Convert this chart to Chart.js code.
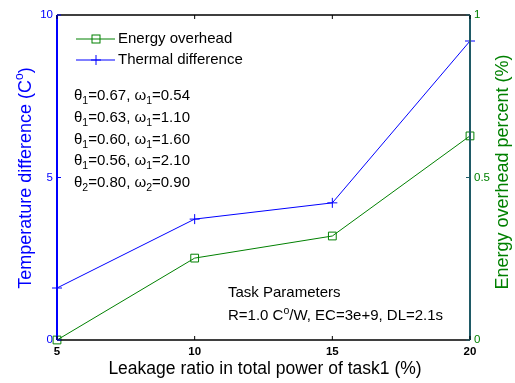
<!DOCTYPE html>
<html><head><meta charset="utf-8">
<script src="https://cdn.jsdelivr.net/npm/chart.js@4"></script>
<style>html,body{margin:0;padding:0;background:#fff}#wrap{width:515px;height:383px}</style>
</head><body><div id="wrap"><canvas id="c" width="515" height="383"></canvas></div>
<script>
const categories = [5, 10, 15, 20];
const thermalDiff = [1.6, 3.72, 4.22, 9.2];
const energyOverhead = [0.0, 0.252, 0.32, 0.628];
const xTicks = [5, 10, 15, 20];
const leftTicks = [0, 5, 10];
const rightTicks = [0, 0.5, 1];
const paramLines = [
  ["θ","1","0.67","ω","1","0.54"],
  ["θ","1","0.63","ω","1","1.10"],
  ["θ","1","0.60","ω","1","1.60"],
  ["θ","1","0.56","ω","1","2.10"],
  ["θ","2","0.80","ω","2","0.90"]
];
const FONT = 'Liberation Sans, Arial, sans-serif';
const BLUE = '#0000ff', GREEN = '#008000', TEAL = '#1f5a66';

const deco = {
  id: 'deco',
  afterDraw(chart) {
    const ctx = chart.ctx, a = chart.chartArea;
    const xs = chart.scales.x, yl = chart.scales.y, yr = chart.scales.y1;
    ctx.save();
    // frame
    ctx.lineWidth = 1.5; ctx.strokeStyle = '#000';
    ctx.beginPath(); ctx.moveTo(a.left, a.top); ctx.lineTo(a.right, a.top);
    ctx.moveTo(a.left, a.bottom); ctx.lineTo(a.right, a.bottom); ctx.stroke();
    ctx.lineWidth = 2; ctx.strokeStyle = BLUE;
    ctx.beginPath(); ctx.moveTo(a.left, a.top); ctx.lineTo(a.left, a.bottom); ctx.stroke();
    ctx.strokeStyle = TEAL;
    ctx.beginPath(); ctx.moveTo(a.right, a.top); ctx.lineTo(a.right, a.bottom); ctx.stroke();
    // ticks inward
    ctx.lineWidth = 1; ctx.strokeStyle = '#000';
    xTicks.forEach(v => { const px = xs.getPixelForValue(v);
      ctx.beginPath(); ctx.moveTo(px, a.bottom); ctx.lineTo(px, a.bottom - 4);
      ctx.moveTo(px, a.top); ctx.lineTo(px, a.top + 4); ctx.stroke(); });
    ctx.strokeStyle = BLUE;
    leftTicks.forEach(v => { const py = yl.getPixelForValue(v);
      ctx.beginPath(); ctx.moveTo(a.left, py); ctx.lineTo(a.left + 4, py); ctx.stroke(); });
    ctx.strokeStyle = TEAL;
    rightTicks.forEach(v => { const py = yr.getPixelForValue(v);
      ctx.beginPath(); ctx.moveTo(a.right, py); ctx.lineTo(a.right - 4, py); ctx.stroke(); });
    // axis titles
    ctx.fillStyle = '#000'; ctx.font = '17.5px ' + FONT; ctx.textAlign = 'center'; ctx.textBaseline = 'alphabetic';
    ctx.fillText('Leakage ratio in total power of task1 (%)', 265, 374);
    // left title with superscript
    ctx.save();
    ctx.translate(31, 178); ctx.rotate(-Math.PI / 2);
    ctx.fillStyle = BLUE; ctx.textAlign = 'left';
    const p1 = 'Temperature difference (C', p3 = ')';
    ctx.font = '18px ' + FONT; const w1 = ctx.measureText(p1).width, w3 = ctx.measureText(p3).width;
    ctx.font = '12px ' + FONT; const w2 = ctx.measureText('o').width;
    let x0 = -(w1 + w2 + w3) / 2;
    ctx.font = '18px ' + FONT; ctx.fillText(p1, x0, 0);
    ctx.font = '12px ' + FONT; ctx.fillText('o', x0 + w1, -8);
    ctx.font = '18px ' + FONT; ctx.fillText(p3, x0 + w1 + w2, 0);
    ctx.restore();
    ctx.save();
    ctx.translate(508, 172); ctx.rotate(-Math.PI / 2);
    ctx.fillStyle = GREEN; ctx.font = '18px ' + FONT; ctx.textAlign = 'center';
    ctx.fillText('Energy overhead percent (%)', 0, 0);
    ctx.restore();
    // legend
    const ds = chart.data.datasets;
    const legRows = [{d: ds[1], y: 39}, {d: ds[0], y: 60}];
    legRows.forEach(r => {
      ctx.strokeStyle = r.d.borderColor; ctx.lineWidth = 1;
      ctx.beginPath(); ctx.moveTo(76, r.y); ctx.lineTo(115, r.y); ctx.stroke();
      if (r.d.pointStyle === 'rect') ctx.strokeRect(92, r.y - 4, 8, 8);
      else { ctx.beginPath(); ctx.moveTo(96, r.y - 5); ctx.lineTo(96, r.y + 5); ctx.moveTo(91, r.y); ctx.lineTo(101, r.y); ctx.stroke(); }
      ctx.fillStyle = '#000'; ctx.font = '15px ' + FONT; ctx.textAlign = 'left'; ctx.textBaseline = 'middle';
      ctx.fillText(r.d.label, 118, r.y);
    });
    // parameter lines
    ctx.textBaseline = 'alphabetic'; ctx.fillStyle = '#000';
    paramLines.forEach((p, i) => {
      const y = 100 + i * 21.8; let x = 74;
      const seg = (t, f, dy) => { ctx.font = f + 'px ' + FONT; ctx.fillText(t, x, y + dy); x += ctx.measureText(t).width; };
      seg(p[0], 15, 0); seg(p[1], 10.5, 4); seg('=' + p[2] + ', ', 15, 0);
      seg(p[3], 15, 0); seg(p[4], 10.5, 4); seg('=' + p[5], 15, 0);
    });
    // task params
    ctx.font = '15px ' + FONT;
    ctx.fillText('Task Parameters', 228, 297);
    let x = 228; const y = 320;
    const seg2 = (t, f, dy) => { ctx.font = f + 'px ' + FONT; ctx.fillText(t, x, y + dy); x += ctx.measureText(t).width; };
    seg2('R=1.0 C', 15, 0); seg2('o', 10.5, -6); seg2('/W, EC=3e+9, DL=2.1s', 15, 0);
    ctx.restore();
  }
};

new Chart(document.getElementById('c'), {
  type: 'line',
  data: {
    datasets: [
      { label: 'Thermal difference', data: categories.map((c, i) => ({x: c, y: thermalDiff[i]})),
        borderColor: BLUE, borderWidth: 1, pointStyle: 'cross', pointRadius: 5,
        pointBorderColor: BLUE, pointBorderWidth: 1, backgroundColor: BLUE, yAxisID: 'y', clip: false, tension: 0 },
      { label: 'Energy overhead', data: categories.map((c, i) => ({x: c, y: energyOverhead[i]})),
        borderColor: GREEN, borderWidth: 1, pointStyle: 'rect', pointRadius: 5.5,
        pointBorderColor: GREEN, pointBorderWidth: 1, pointBackgroundColor: 'rgba(0,0,0,0)', yAxisID: 'y1', clip: false, tension: 0 }
    ]
  },
  options: {
    responsive: false, animation: false, devicePixelRatio: 1,
    layout: { padding: { top: 15, left: 0, right: 0, bottom: 0 } },
    plugins: { legend: { display: false }, tooltip: { enabled: false } },
    scales: {
      x: { type: 'linear', min: 5, max: 20, grid: { display: false, drawTicks: false }, border: { display: false },
        afterBuildTicks: s => { s.ticks = xTicks.map(v => ({value: v})); },
        afterFit: s => { s.height = 43; },
        ticks: { color: '#000', font: { family: FONT, size: 11.5, weight: 'bold' }, padding: 5, maxRotation: 0 } },
      y: { position: 'left', min: 0, max: 10, grid: { display: false, drawTicks: false }, border: { display: false },
        afterBuildTicks: s => { s.ticks = leftTicks.map(v => ({value: v})); },
        afterFit: s => { s.width = 57; },
        ticks: { color: BLUE, font: { family: FONT, size: 11.5 }, padding: 4, callback: v => String(v) } },
      y1: { position: 'right', min: 0, max: 1, grid: { display: false, drawTicks: false }, border: { display: false },
        afterBuildTicks: s => { s.ticks = rightTicks.map(v => ({value: v})); },
        afterFit: s => { s.width = 45; },
        ticks: { color: GREEN, font: { family: FONT, size: 11.5 }, padding: 4, callback: v => String(v) } }
    }
  },
  plugins: [deco]
});
</script></body></html>
